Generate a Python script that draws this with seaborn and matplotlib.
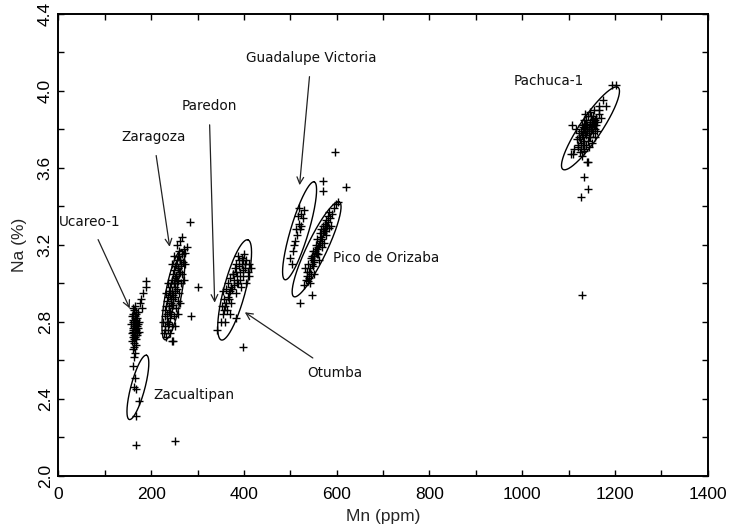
import numpy as np
import pandas as pd
import matplotlib
matplotlib.use("Agg")
import matplotlib.pyplot as plt
import seaborn as sns

# ---- sample measurements (Mn in ppm, Na in %) per obsidian source ----
ucareo_mn = [160, 163, 166, 158, 170, 162, 168, 165, 172, 159, 164, 167, 161, 169, 163, 171, 157, 166,
             174, 160, 168, 162, 165, 170, 158, 173, 164, 167, 160, 165, 176, 178, 188, 188, 183, 180,
             163, 167, 171, 169, 161, 164, 167, 163, 166, 162, 165, 168, 160, 164]
ucareo_na = [2.80, 2.78, 2.76, 2.74, 2.82, 2.84, 2.79, 2.72, 2.77, 2.70, 2.86, 2.81, 2.77, 2.74, 2.69, 2.85,
             2.79, 2.83, 2.80, 2.76, 2.71, 2.81, 2.88, 2.78, 2.83, 2.75, 2.73, 2.68, 2.66, 2.64, 2.90, 2.92,
             3.01, 2.98, 2.95, 2.87, 2.62, 2.84, 2.79, 2.73, 2.75, 2.80, 2.85, 2.71, 2.78, 2.87, 2.82, 2.76,
             2.72, 2.67]

zacualtipan_mn = [160, 166, 163, 167, 174, 168, 168, 252]
zacualtipan_na = [2.57, 2.51, 2.46, 2.45, 2.39, 2.31, 2.16, 2.18]

zaragoza_mn = [228, 231, 234, 230, 236, 238, 233, 240, 242, 237, 244, 246, 241, 248, 250, 245, 252, 254,
               249, 256, 258, 253, 260, 262, 257, 264, 266, 261, 268, 270, 232, 239, 243, 247, 251, 255,
               259, 263, 235, 239, 243, 247, 251, 255, 240, 245, 249, 253, 257, 261, 265, 267, 229, 226,
               233, 236, 246, 252, 258, 262, 272, 270, 244, 250, 256, 262, 266, 284, 278, 274, 301, 286,
               248, 234, 238, 242, 246, 250, 254, 258, 262, 236, 240, 244, 248, 252, 256, 260, 264, 231,
               241, 251, 261]
zaragoza_na = [2.74, 2.78, 2.80, 2.83, 2.76, 2.85, 2.88, 2.82, 2.90, 2.93, 2.87, 2.95, 2.98, 2.92, 3.00,
               3.02, 2.96, 3.04, 3.07, 3.00, 3.08, 3.10, 3.05, 3.12, 3.14, 3.09, 3.15, 3.17, 3.11, 3.18,
               2.72, 2.79, 2.84, 2.89, 2.93, 2.97, 3.01, 3.06, 2.91, 2.96, 3.00, 3.05, 3.09, 3.12, 2.74,
               2.78, 2.83, 2.87, 2.91, 2.95, 3.00, 3.05, 2.86, 2.80, 2.95, 3.00, 2.70, 2.78, 2.84, 2.90,
               3.10, 3.02, 3.10, 3.14, 3.20, 3.22, 3.24, 3.32, 3.19, 3.16, 2.98, 2.83, 2.70, 2.84, 2.88,
               2.92, 2.96, 3.00, 3.04, 3.08, 3.12, 2.80, 2.85, 2.89, 2.94, 2.98, 3.02, 3.06, 3.10, 2.76,
               2.94, 3.03, 3.14]

otumba_mn = [350, 355, 360, 358, 364, 368, 372, 366, 375, 378, 382, 385, 380, 388, 392, 395, 390, 398,
             402, 405, 400, 408, 410, 362, 370, 356, 352, 376, 384, 394, 404, 412, 415, 342, 384, 397,
             360, 370, 388, 398, 362, 367, 373, 379, 385, 391, 397, 403, 357, 365, 371, 377, 383, 389,
             395]
otumba_na = [2.80, 2.84, 2.88, 2.92, 2.86, 2.95, 2.90, 3.00, 2.97, 3.02, 2.95, 3.04, 3.08, 3.00, 3.06,
             3.10, 3.12, 3.04, 3.08, 3.12, 3.15, 3.06, 3.10, 2.97, 2.84, 2.96, 2.88, 3.05, 3.10, 2.98,
             3.00, 3.04, 3.08, 2.76, 2.82, 2.67, 2.80, 3.03, 3.14, 3.12, 2.90, 2.92, 2.98, 2.99, 3.00,
             3.02, 3.07, 3.10, 2.86, 2.93, 2.96, 3.05, 3.06, 3.09, 3.13]

guadalupe_mn = [516, 522, 527, 519, 512, 520, 505, 503, 510, 515, 524, 530, 508, 518, 500, 570, 570, 621, 596]
guadalupe_na = [3.35, 3.36, 3.34, 3.31, 3.28, 3.28, 3.17, 3.10, 3.22, 3.25, 3.30, 3.38, 3.20, 3.39, 3.13,
                3.53, 3.48, 3.50, 3.68]

orizaba_mn = [530, 534, 537, 540, 543, 546, 549, 552, 555, 558, 561, 564, 567, 570, 573, 576, 579, 582,
              586, 590, 535, 541, 545, 550, 556, 560, 565, 568, 574, 578, 584, 588, 538, 548, 558, 562,
              572, 594, 598, 552, 520, 546, 602, 532, 543, 544, 551, 557, 563, 569, 575, 581, 539, 547,
              553, 559, 566, 571, 577, 583]
orizaba_na = [2.99, 3.02, 3.04, 3.06, 3.08, 3.10, 3.12, 3.14, 3.16, 3.18, 3.20, 3.22, 3.24, 3.26, 3.27,
              3.29, 3.30, 3.32, 3.34, 3.36, 3.06, 3.03, 3.13, 3.09, 3.20, 3.15, 3.26, 3.19, 3.31, 3.25,
              3.37, 3.30, 3.10, 3.17, 3.23, 3.12, 3.21, 3.39, 3.41, 3.05, 2.90, 2.94, 3.42, 3.08, 3.00,
              3.05, 3.11, 3.15, 3.21, 3.23, 3.27, 3.35, 3.01, 3.14, 3.17, 3.19, 3.28, 3.30, 3.33, 3.29]

pachuca_mn = [1120, 1125, 1130, 1135, 1140, 1145, 1150, 1128, 1133, 1138, 1143, 1148, 1153, 1158, 1122,
              1127, 1132, 1137, 1142, 1147, 1152, 1157, 1162, 1118, 1124, 1130, 1136, 1141, 1146, 1151,
              1156, 1160, 1165, 1112, 1115, 1129, 1134, 1144, 1155, 1166, 1170, 1194, 1203, 1166, 1106,
              1110, 1141, 1139, 1134, 1141, 1126, 1128, 1175, 1180, 1108, 1123, 1127, 1131, 1136, 1139,
              1144, 1149, 1154, 1121, 1126, 1131, 1135, 1140, 1145, 1150, 1155, 1159, 1133, 1138, 1143,
              1148, 1152, 1157, 1128, 1132, 1137]
pachuca_na = [3.72, 3.75, 3.78, 3.80, 3.82, 3.84, 3.85, 3.82, 3.74, 3.77, 3.79, 3.81, 3.83, 3.86, 3.78,
              3.70, 3.85, 3.72, 3.87, 3.76, 3.78, 3.80, 3.84, 3.75, 3.68, 3.72, 3.88, 3.74, 3.89, 3.73,
              3.76, 3.79, 3.88, 3.70, 3.80, 3.66, 3.69, 3.71, 3.90, 3.92, 3.86, 4.03, 4.03, 3.90, 3.67,
              3.67, 3.63, 3.63, 3.55, 3.49, 3.45, 2.94, 3.95, 3.92, 3.82, 3.76, 3.79, 3.81, 3.83, 3.79,
              3.81, 3.87, 3.82, 3.71, 3.73, 3.76, 3.78, 3.80, 3.83, 3.80, 3.84, 3.82, 3.70, 3.85, 3.76,
              3.79, 3.87, 3.85, 3.77, 3.80, 3.82]

# ---- group ellipses: centre, half major axis (data units), minor/major ratio ----
ell_names = ["Zacualtipan", "Zaragoza", "Otumba", "Guadalupe Victoria", "Pico de Orizaba", "Pachuca-1"]
ell_cx = [171.5, 248.0, 380.0, 520.0, 556.7, 1147.0]
ell_cy = [2.46, 2.94, 2.966, 3.273, 3.177, 3.805]
ell_dx = [18.5, 17.9, 28.6, 31.6, 49.0, 59.4]
ell_dy = [0.167, 0.233, 0.26, 0.254, 0.246, 0.213]
ell_ratio = [0.21, 0.175, 0.21, 0.176, 0.19, 0.22]

# ---- source labels: text, text position, arrow tip (None = no arrow) ----
lab_text = ["Ucareo-1", "Zaragoza", "Paredon", "Guadalupe Victoria", "Pachuca-1",
            "Pico de Orizaba", "Otumba", "Zacualtipan"]
lab_mn = [68, 205, 325, 545, 1058, 591, 537, 204]
lab_na = [3.32, 3.76, 3.92, 4.17, 4.05, 3.13, 2.535, 2.42]
tip_mn = [154, 240, 337, 520, None, None, 402, None]
tip_na = [2.87, 3.19, 2.90, 3.51, None, None, 2.85, None]

groups = [("Ucareo-1", ucareo_mn, ucareo_na), ("Zacualtipan", zacualtipan_mn, zacualtipan_na),
          ("Zaragoza", zaragoza_mn, zaragoza_na), ("Otumba", otumba_mn, otumba_na),
          ("Guadalupe Victoria", guadalupe_mn, guadalupe_na), ("Pico de Orizaba", orizaba_mn, orizaba_na),
          ("Pachuca-1", pachuca_mn, pachuca_na)]
df = pd.concat([pd.DataFrame({"source": g, "Mn": m, "Na": n}) for g, m, n in groups], ignore_index=True)

sns.set_theme(style="white")
plt.rcParams["font.family"] = ["Liberation Sans", "DejaVu Sans"]

fig = plt.figure(figsize=(7.29, 5.30), dpi=100)
ax = fig.add_axes([0.080, 0.102, 0.891, 0.872])

sns.scatterplot(data=df, x="Mn", y="Na", marker="+", color="black", s=36, linewidth=1.0,
                legend=False, ax=ax, zorder=3)

ax.set_xlim(0, 1400)
ax.set_ylim(2.0, 4.4)

# ellipses are built in screen-proportional space so the minor axis is perpendicular on the page
ppx = ax.bbox.width / 1400.0
ppy = ax.bbox.height / 2.4
t = np.linspace(0, 2 * np.pi, 200)
for cx, cy, dx, dy, r in zip(ell_cx, ell_cy, ell_dx, ell_dy, ell_ratio):
    mx, my = -dy * ppy * r / ppx, dx * ppx * r / ppy
    xs = cx + np.cos(t) * dx + np.sin(t) * mx
    ys = cy + np.cos(t) * dy + np.sin(t) * my
    ax.plot(xs, ys, color="black", lw=1.0, zorder=2)

for txt, lx, ly, tx, ty in zip(lab_text, lab_mn, lab_na, tip_mn, tip_na):
    ha = "left" if txt in ("Pico de Orizaba", "Otumba", "Zacualtipan") else "center"
    if tx is None:
        ax.text(lx, ly, txt, ha=ha, va="center", fontsize=9.8, family="DejaVu Sans", color="#111111")
    else:
        ax.annotate(txt, xy=(tx, ty), xytext=(lx, ly), ha=ha, va="center", fontsize=9.8,
                    family="DejaVu Sans", color="#111111",
                    arrowprops=dict(arrowstyle="->", color="#222222", lw=0.9,
                                    shrinkA=6, shrinkB=0, mutation_scale=12))

ax.set_xticks(np.arange(0, 1401, 200))
ax.set_xticks(np.arange(0, 1401, 100), minor=True)
ax.set_yticks(np.arange(2.0, 4.41, 0.4))
ax.set_yticks(np.arange(2.0, 4.41, 0.2), minor=True)
ax.set_yticklabels([f"{v:.1f}" for v in np.arange(2.0, 4.41, 0.4)], rotation=90, va="center")
ax.tick_params(which="both", direction="in", length=4, width=1.0, top=True, right=True,
               bottom=True, left=True, labelsize=12.5, colors="black")
ax.tick_params(axis="x", pad=8)
ax.tick_params(axis="y", pad=4)
for sp in ax.spines.values():
    sp.set_color("black")
    sp.set_linewidth(1.4)

ax.set_xlabel("Mn (ppm)", fontsize=12.5, labelpad=5)
ax.set_ylabel("Na (%)", fontsize=12.5, labelpad=8)

fig.savefig("out.png", dpi=100)
